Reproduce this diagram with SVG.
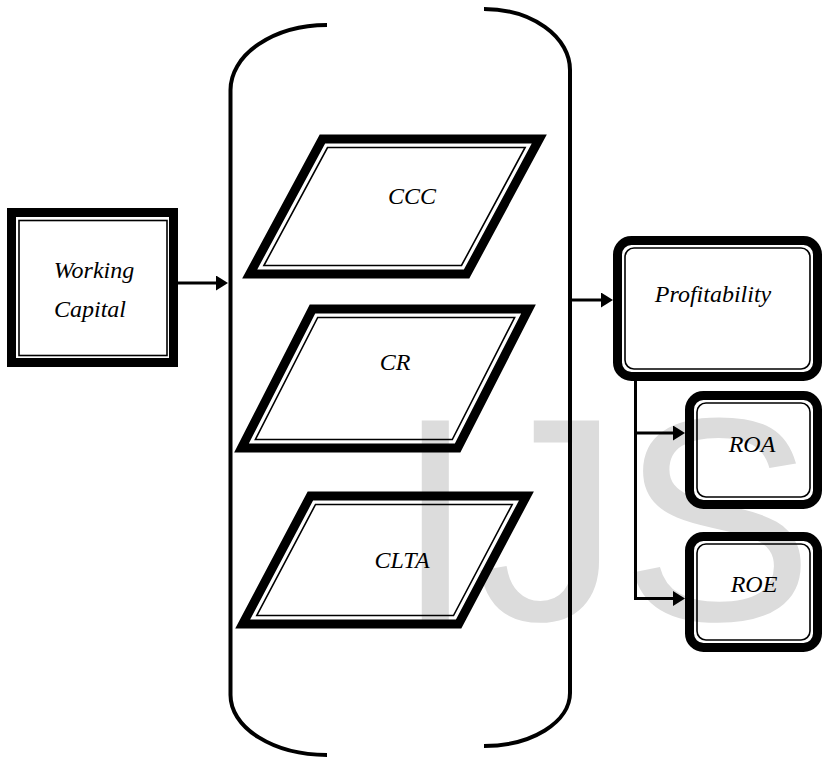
<svg xmlns="http://www.w3.org/2000/svg" width="822" height="757" viewBox="0 0 822 757">
<style>
.bg{fill:#ffffff}
.wm{fill:#dcdcdc;font-family:"Liberation Sans",Arial,sans-serif;font-size:290px}
.thick{fill:none;stroke:#000;stroke-width:9;stroke-linejoin:miter}
.thin{fill:none;stroke:#000;stroke-width:1.6}
.brk{fill:none;stroke:#000;stroke-width:4}
.con{fill:none;stroke:#000;stroke-width:3}
.lbl{font-family:"Liberation Serif","Times New Roman",serif;font-style:italic;font-size:24px;fill:#000;text-anchor:middle}
</style>
<defs>
<marker id="ah" markerWidth="12" markerHeight="15" refX="4" refY="7.5" orient="auto" markerUnits="userSpaceOnUse">
<path d="M0,0 L12,7.5 L0,15 Z" fill="#000"/>
</marker>
</defs>
<rect class="bg" x="0" y="0" width="822" height="757"/>
<text class="wm" x="395" y="620">IJS</text>

<g id="bracket">
<path class="brk" d="M327,25 A97,65 0 0 0 230.5,90 V695 A96.5,60 0 0 0 327,755"/>
<path class="brk" d="M484,9 A86,61 0 0 1 570,70 V693 A86,53 0 0 1 484,746"/>
</g>

<g id="working-capital">
<rect class="thick" x="11.5" y="212.5" width="162" height="150"/>
<rect class="thin" x="19" y="220.5" width="148" height="135"/>
<text class="lbl" x="94" y="278">Working</text>
<text class="lbl" x="90" y="317">Capital</text>
</g>

<g id="ccc">
<polygon class="thick" points="322.4,139 539.3,139 466.6,274 249.7,274"/>
<polygon class="thin" points="327.5,147.5 525.1,147.5 461.5,265.5 263.9,265.5"/>
<text class="lbl" x="412" y="204">CCC</text>
</g>

<g id="cr">
<polygon class="thick" points="312.5,309 528.5,309 457.6,448 241.5,448"/>
<polygon class="thin" points="317.7,317.5 514.6,317.5 452.3,439.5 255.4,439.5"/>
<text class="lbl" x="395" y="370">CR</text>
</g>

<g id="clta">
<polygon class="thick" points="310.4,496 526.4,496 458.6,624 242.7,624"/>
<polygon class="thin" points="315.5,504.5 512.2,504.5 453.5,615.5 256.8,615.5"/>
<text class="lbl" x="402" y="568">CLTA</text>
</g>

<g id="profitability">
<rect class="thick" x="617.5" y="240.5" width="200" height="136" rx="14"/>
<rect class="thin" x="625" y="248" width="185" height="121" rx="9"/>
<text class="lbl" x="713" y="302">Profitability</text>
</g>

<g id="roa">
<rect class="thick" x="689.5" y="395.5" width="128" height="109" rx="14"/>
<rect class="thin" x="697" y="403" width="113" height="94" rx="9"/>
<text class="lbl" x="752" y="452">ROA</text>
</g>

<g id="roe">
<rect class="thick" x="689.5" y="536.5" width="128" height="111" rx="14"/>
<rect class="thin" x="697" y="544" width="113" height="96" rx="9"/>
<text class="lbl" x="754" y="592">ROE</text>
</g>

<g id="connectors">
<line class="con" x1="178" y1="283" x2="220" y2="283" marker-end="url(#ah)"/>
<line class="con" x1="572" y1="300" x2="605" y2="300" marker-end="url(#ah)"/>
<path class="con" d="M635.5,381 V600"/>
<line class="con" x1="635" y1="433" x2="677" y2="433" marker-end="url(#ah)"/>
<line class="con" x1="635" y1="598.5" x2="677" y2="598.5" marker-end="url(#ah)"/>
</g>
</svg>
